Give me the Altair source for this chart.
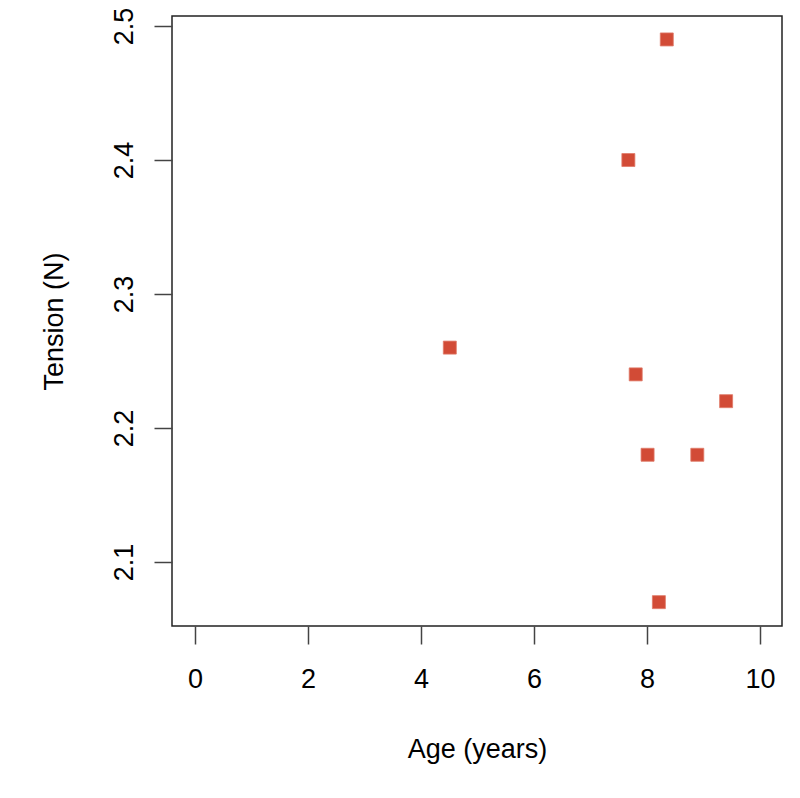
import altair as alt
import pandas as pd

age = [8.35, 7.67, 4.51, 7.80, 9.40, 8.01, 8.89, 8.21]
tension = [2.49, 2.40, 2.26, 2.24, 2.22, 2.18, 2.18, 2.07]
x_ticks = [0, 2, 4, 6, 8, 10]
y_ticks = [2.1, 2.2, 2.3, 2.4, 2.5]

df = pd.DataFrame({"age": age, "tension": tension})

font = "Liberation Sans"

chart = alt.Chart(df).mark_square(
    filled=True, size=169, color="#d24b36", opacity=1,
    stroke="#e07a68", strokeWidth=0.8
).encode(
    x=alt.X("age:Q",
            scale=alt.Scale(domain=[-0.407, 10.389], nice=False, zero=False),
            axis=alt.Axis(values=x_ticks, title="Age (years)", domain=False,
                          grid=False, tickSize=18, tickColor="#444", tickWidth=1.5,
                          labelFont=font, labelFontSize=27, labelColor="#000",
                          labelPadding=22, labelBaseline="top",
                          titleFont=font, titleFontSize=27, titleFontWeight="normal",
                          titleColor="#000", titleX=305, titleY=131,
                          titleBaseline="alphabetic", titleAnchor="middle",
                          titleAlign="center")),
    y=alt.Y("tension:Q",
            scale=alt.Scale(domain=[2.0522, 2.5075], nice=False, zero=False),
            axis=alt.Axis(values=y_ticks, title="Tension (N)", domain=False,
                          grid=False, tickSize=18, tickColor="#444", tickWidth=1.5,
                          labelFont=font, labelFontSize=27, labelColor="#000",
                          labelAngle=-90, labelAlign="center", labelBaseline="bottom",
                          labelPadding=16, format=".1f",
                          titleFont=font, titleFontSize=27, titleFontWeight="normal",
                          titleColor="#000", titleX=-110, titleY=305, titleAngle=-90,
                          titleBaseline="alphabetic", titleAlign="center")),
).properties(
    width=610, height=610,
    autosize=alt.AutoSizeParams(type="none"),
    padding={"left": 164, "top": 8, "right": 10, "bottom": 164},
    background="white",
).configure_view(
    stroke="#222", strokeWidth=1.5
)

chart.save("out.html", embed_options={"renderer": "svg", "actions": False})
